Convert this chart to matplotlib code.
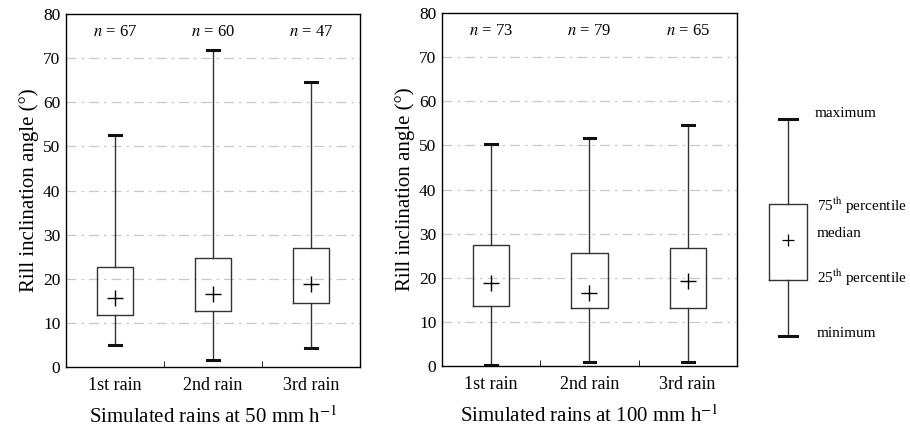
import numpy as np
import matplotlib
matplotlib.use("Agg")
import matplotlib.pyplot as plt

plt.rcParams['font.family'] = ['Liberation Serif', 'DejaVu Serif']
plt.rcParams['mathtext.fontset'] = 'stix'

categories = ['1st rain', '2nd rain', '3rd rain']

# 50 mm/h
n_50 = [67, 60, 47]
min_50 = [5.0, 1.6, 4.4]
q1_50 = [11.8, 12.8, 14.6]
med_50 = [15.7, 16.5, 18.9]
q3_50 = [22.7, 24.8, 26.9]
max_50 = [52.6, 71.9, 64.7]

# 100 mm/h
n_100 = [73, 79, 65]
min_100 = [0.2, 0.9, 1.0]
q1_100 = [13.5, 13.1, 13.2]
med_100 = [18.9, 16.6, 19.2]
q3_100 = [27.5, 25.7, 26.7]
max_100 = [50.3, 51.6, 54.7]

# legend example box
leg_vals = dict(whislo=6.8, q1=19.5, med=28.5, q3=36.7, whishi=56.0)
leg_text = ['maximum', '75$^{\\rm th}$ percentile', 'median', '25$^{\\rm th}$ percentile', 'minimum']
leg_y = [57.3, 36.4, 30.0, 20.0, 7.4]

box_col = '#333333'


def draw_boxes(ax, mins, q1s, meds, q3s, maxs, ns, xlabel):
    stats = []
    for i in range(len(mins)):
        stats.append(dict(whislo=mins[i], q1=q1s[i], med=meds[i], q3=q3s[i], whishi=maxs[i]))
    pos = np.arange(1, len(stats) + 1)
    ax.bxp(stats, positions=pos, widths=0.37, capwidths=0.12, showfliers=False,
           boxprops=dict(color=box_col, linewidth=1.0),
           whiskerprops=dict(color=box_col, linewidth=1.0),
           capprops=dict(color='#111111', linewidth=2.2),
           medianprops=dict(linewidth=0))
    ax.plot(pos, meds, '+', color='black', markersize=11, markeredgewidth=1.0, zorder=4)
    for p, n in zip(pos, ns):
        ax.text(p, 76, f'$n$ = {n}', ha='center', va='center', fontsize=12)
    ax.set_xlim(0.5, 3.5)
    ax.set_ylim(0, 80)
    ax.set_yticks(np.arange(0, 81, 10))
    ax.set_xticks(pos)
    ax.set_xticklabels(categories, fontsize=13)
    ax.set_xticks([1.5, 2.5], minor=True)
    ax.tick_params(axis='x', which='major', length=0, pad=7)
    ax.tick_params(axis='x', which='minor', direction='in', length=4)
    ax.tick_params(axis='y', direction='in', length=0, labelsize=12.5, pad=4)
    for g in range(10, 80, 10):
        ax.axhline(g, color='#c8c8c8', linewidth=0.9, linestyle=(0, (8, 4, 2, 4)), zorder=0)
    ax.set_ylabel('Rill inclination angle (°)', fontsize=15, labelpad=3)
    ax.set_xlabel(xlabel, fontsize=15, labelpad=9)
    for s in ax.spines.values():
        s.set_linewidth(1.0)


fig = plt.figure(figsize=(9.1, 4.33), dpi=100)
ax1 = fig.add_axes([0.0725, 0.1524, 0.323, 0.815])
ax2 = fig.add_axes([0.4857, 0.1547, 0.324, 0.815])

draw_boxes(ax1, min_50, q1_50, med_50, q3_50, max_50, n_50,
           'Simulated rains at 50 mm h$^{-1}$')
draw_boxes(ax2, min_100, q1_100, med_100, q3_100, max_100, n_100,
           'Simulated rains at 100 mm h$^{-1}$')

# legend panel
axl = fig.add_axes([0.813, 0.1547, 0.187, 0.815])
axl.set_xlim(0, 170)
axl.set_ylim(0, 80)
axl.axis('off')
axl.bxp([leg_vals], positions=[48], widths=38, capwidths=18, showfliers=False,
        boxprops=dict(color=box_col, linewidth=1.0),
        whiskerprops=dict(color=box_col, linewidth=1.0),
        capprops=dict(color='#111111', linewidth=2.2),
        medianprops=dict(linewidth=0))
axl.plot([48], [leg_vals['med']], '+', color='black', markersize=9, markeredgewidth=0.9)
for t, y in zip(leg_text, leg_y):
    x = 75 if t == 'maximum' else 77
    axl.text(x, y, t, ha='left', va='center', fontsize=11)

fig.savefig('out.png', dpi=100)
